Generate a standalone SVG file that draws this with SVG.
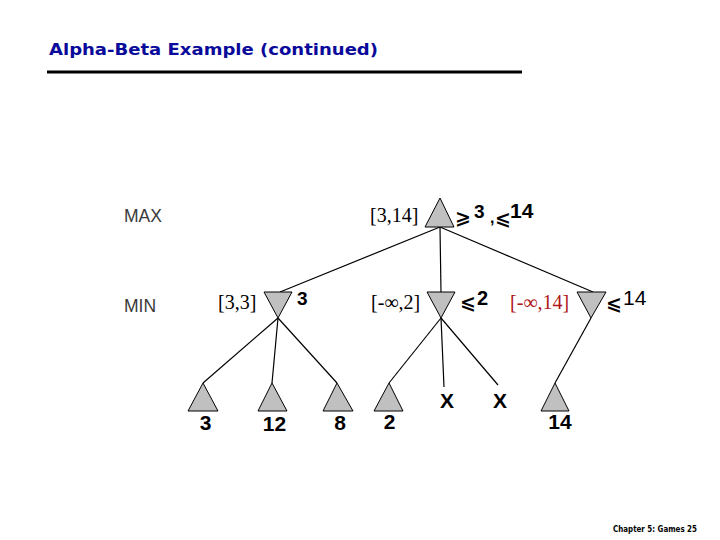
<svg xmlns="http://www.w3.org/2000/svg" width="720" height="540" viewBox="0 0 720 540">
<style>
.tri{fill:#c0c0c0;stroke:#000;stroke-width:1}
.edge{stroke:#000;stroke-width:1.2;fill:none}
.lvl{font-family:"Liberation Sans",Arial,sans-serif;font-size:17.5px;fill:#3a3a3a}
.iv{font-family:"Liberation Serif","Times New Roman",serif;font-size:20px;fill:#000}
.red{fill:#b01818}
.val{font-family:"Liberation Sans",Arial,sans-serif;font-weight:bold;fill:#000}
.rel{font-family:"DejaVu Sans",sans-serif;font-weight:bold;font-size:19px}
.leaf{font-family:"Liberation Sans",Arial,sans-serif;font-weight:bold;font-size:21px;fill:#000;text-anchor:middle}
</style>
<rect width="720" height="540" fill="#fff"/>
<text x="49" y="55" font-family="DejaVu Sans,Verdana,sans-serif" font-weight="bold" font-size="16" fill="#0a0a9a" textLength="329" lengthAdjust="spacingAndGlyphs">Alpha-Beta Example (continued)</text>
<line x1="47" y1="72" x2="522" y2="72" stroke="#000" stroke-width="3"/>
<text class="lvl" x="124" y="222">MAX</text>
<text class="lvl" x="124" y="312">MIN</text>
<g id="connectors">
<line class="edge" x1="440" y1="227" x2="280" y2="292"/>
<line class="edge" x1="440" y1="227" x2="441" y2="292"/>
<line class="edge" x1="440" y1="227" x2="593" y2="292"/>
<line class="edge" x1="278" y1="318" x2="203" y2="383"/>
<line class="edge" x1="278" y1="318" x2="272" y2="383"/>
<line class="edge" x1="278" y1="318" x2="337" y2="383"/>
<line class="edge" x1="441" y1="318" x2="389" y2="383"/>
<line class="edge" x1="441" y1="318" x2="444" y2="387"/>
<line class="edge" x1="441" y1="318" x2="498" y2="385"/>
<line class="edge" x1="591" y1="318" x2="555" y2="383"/>
</g>
<g id="root">
<polygon class="tri" points="440,198 425,227 454,227"/>
<text class="iv" x="370" y="222">[3,14]</text>
<text class="val"><tspan class="rel" x="455" y="224">⩾</tspan><tspan x="474" y="218" font-size="19">3</tspan><tspan x="490" y="223" font-size="16">,</tspan><tspan class="rel" x="495" y="225">⩽</tspan><tspan x="510" y="218" font-size="21">14</tspan></text>
</g>
<g id="min1">
<polygon class="tri" points="264,292 292,292 278,318"/>
<text class="iv" x="218" y="309">[3,3]</text>
<text class="val" x="297" y="305" font-size="19">3</text>
</g>
<g id="min2">
<polygon class="tri" points="427,292 455,292 441,318"/>
<text class="iv" x="371" y="309">[-∞,2]</text>
<text class="val"><tspan class="rel" x="460" y="309">⩽</tspan><tspan x="477" y="305" font-size="20">2</tspan></text>
</g>
<g id="min3">
<polygon class="tri" points="577,292 606,292 591,318"/>
<text class="iv red" x="510" y="309">[-∞,14]</text>
<text font-family="Liberation Sans,Arial,sans-serif" fill="#000"><tspan class="rel" x="606" y="310">⩽</tspan><tspan x="623" y="305" font-size="21">14</tspan></text>
</g>
<g id="leaf1"><polygon class="tri" points="203,383 188,411 218,411"/><text class="leaf" x="205.5" y="430">3</text></g>
<g id="leaf2"><polygon class="tri" points="272,383 258,411 287,411"/><text class="leaf" x="274.5" y="431">12</text></g>
<g id="leaf3"><polygon class="tri" points="337,383 323,411 353,411"/><text class="leaf" x="340" y="430">8</text></g>
<g id="leaf4"><polygon class="tri" points="389,383 374,411 403,411"/><text class="leaf" x="389.5" y="429">2</text></g>
<g id="x1"><text class="leaf" x="447" y="408" font-size="19">X</text></g>
<g id="x2"><text class="leaf" x="500" y="408" font-size="19">X</text></g>
<g id="leaf5"><polygon class="tri" points="555,383 541,411 569,411"/><text class="leaf" x="560" y="429">14</text></g>
<text x="613" y="532" font-family="DejaVu Sans,Verdana,sans-serif" font-size="9" font-weight="bold" fill="#000" textLength="84" lengthAdjust="spacingAndGlyphs">Chapter 5: Games 25</text>
</svg>
